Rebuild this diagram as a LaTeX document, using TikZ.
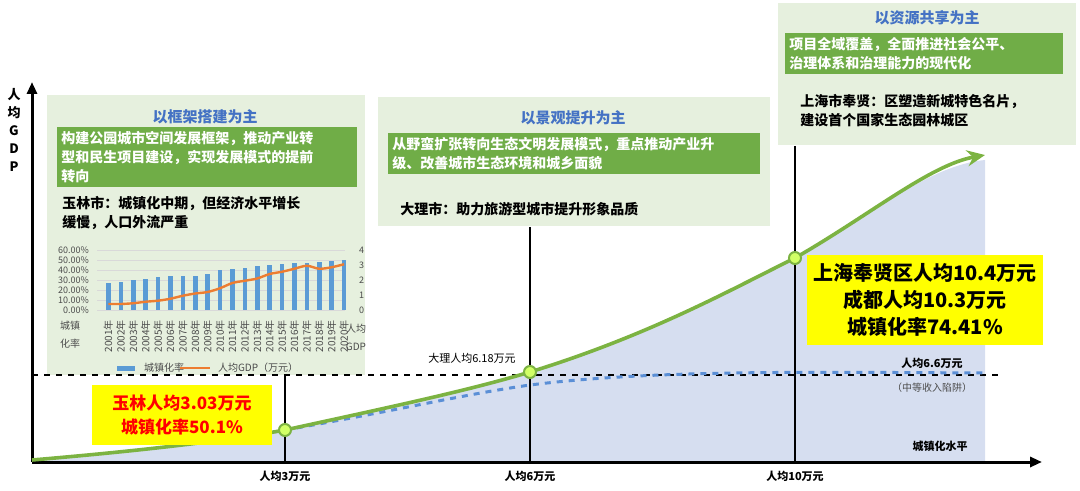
\documentclass[tikz,border=0pt]{standalone}
\usepackage{fontspec}
\setmainfont{Noto Sans CJK SC}
\usetikzlibrary{arrows.meta}
\definecolor{pbg}{HTML}{E6F0DE}
\definecolor{gbox}{HTML}{70AD47}
\definecolor{ttl}{HTML}{4472C4}
\definecolor{fillb}{HTML}{D6DEF0}
\definecolor{crv}{HTML}{7CB342}
\definecolor{dashblue}{HTML}{5B8FD6}
\definecolor{barc}{HTML}{5B9BD5}
\definecolor{org}{HTML}{ED7D31}
\definecolor{yel}{HTML}{FFFF00}
\tikzset{
 panel/.style={fill=pbg,draw=none},
 gtext/.style={fill=gbox,text=white,font=\fontsize{7}{9.5}\selectfont\bfseries,align=left,anchor=north west,inner sep=2pt},
 ttltext/.style={text=ttl,font=\fontsize{7.5}{9}\selectfont\bfseries},
 btext/.style={font=\fontsize{7}{9.5}\selectfont\bfseries,align=left,anchor=north west,inner sep=0pt},
 small/.style={font=\fontsize{4.5}{5}\selectfont,text=black!70},
 tick/.style={font=\fontsize{5.5}{6}\selectfont\bfseries},
 vline/.style={line width=1.2pt},
 dot/.style={circle,fill=yel!70!green!60,draw=crv,line width=1pt,minimum size=6pt,inner sep=0pt},
}
\begin{document}
\begin{tikzpicture}[x=0.5pt,y=-0.5pt]
\useasboundingbox (0,0) rectangle (1080,491);
% panels
\fill[panel] (47,95) rectangle (365,375);
\fill[panel] (378,97) rectangle (770,226);
\fill[panel] (778,3) rectangle (1076,145);
% fill under curve
\fill[fillb] (32,460) .. controls (150,450) and (230,440) .. (285,430)
  .. controls (400,405) and (470,390) .. (530,372)
  .. controls (650,335) and (730,290) .. (795,258)
  .. controls (870,215) and (930,165) .. (985,160) -- (985,462) -- (32,462) -- cycle;
% dashed horizontal
\draw[dashed,line width=0.8pt] (32,375) -- (1000,375);
% axes
\coordinate (o) at (32,462);
\coordinate (yt) at (32,82);
\coordinate (xr) at (1042,462);
\draw[line width=1.5pt,-{Triangle[length=6pt,width=5pt]}] (o) -- (yt);
\draw[line width=1.5pt,-{Triangle[length=6pt,width=5pt]}] (o) -- (xr);
\node[font=\fontsize{6.5}{9}\selectfont\bfseries,align=center] (ylab) at (14,130) {人\\均\\G\\D\\P};
\node[tick] (xlab) at (940,446) {城镇化水平};
% vertical lines
\draw[vline] (285,375) -- (285,462);
\draw[vline] (530,227) -- (530,462);
\draw[vline] (795,146) -- (795,462);
\node[tick] (t3) at (285,476) {人均3万元};
\node[tick] (t6) at (530,476) {人均6万元};
\node[tick] (t10) at (795,476) {人均10万元};
% blue dashed curve
\draw[dashblue,dashed,line width=1.5pt] (285,430) .. controls (400,410) and (460,395) .. (530,385)
  .. controls (650,370) and (800,372) .. (985,373);
% green curve
\draw[crv,line width=1.8pt,-{Stealth[length=9pt,width=8pt]}] (32,460) .. controls (150,450) and (230,440) .. (285,430)
  .. controls (400,405) and (470,390) .. (530,372)
  .. controls (650,335) and (730,290) .. (795,258)
  .. controls (870,215) and (930,165) .. (985,155);
\node[dot] (d1) at (285,430) {};
\node[dot] (d2) at (530,372) {};
\node[dot] (d3) at (795,258) {};
% titles
\node[ttltext] (h1) at (205,117) {以框架搭建为主};
\node[ttltext] (h2) at (573,118) {以景观提升为主};
\node[ttltext] (h3) at (927,18) {以资源共享为主};
% green boxes
\node[gtext,text width=146pt] (g1) at (57,127) {构建公园城市空间发展框架，推动产业转\\型和民生项目建设，实现发展模式的提前\\转向};
\node[gtext,text width=182pt] (g2) at (388,133) {从野蛮扩张转向生态文明发展模式，重点推动产业升\\级、改善城市生态环境和城乡面貌};
\node[gtext,text width=135pt] (g3) at (785,33) {项目全域覆盖，全面推进社会公平、\\治理体系和治理能力的现代化};
% black texts
\node[btext] (b1) at (62,196) {玉林市：城镇化中期，但经济水平增长\\缓慢，人口外流严重};
\node[btext] (b2) at (400,202) {大理市：助力旅游型城市提升形象品质};
\node[btext] (b3) at (800,94) {上海市奉贤：区塑造新城特色名片，\\建设首个国家生态园林城区};
% chart
\foreach \y/\l in {250/60.00\%,260/50.00\%,270/40.00\%,280/30.00\%,290/20.00\%,300/10.00\%,310/0.00\%}{
  \draw[black!15,line width=0.3pt] (97,\y) -- (345,\y);
  \node[small,anchor=east] at (96,\y) {\l};}
\foreach \y/\l in {250/4,265/3,280/2,295/1,310/0}{\node[small,anchor=west] at (352,\y) {\l};}
\foreach \v [count=\i] in {27,28,30,31,32.5,33.5,34,34,35.5,39.5,41,42,43.5,44.5,45.5,46.5,47,48,49,50}{
  \fill[barc] ({96+\i*12.4-2.3},310) rectangle ({96+\i*12.4+2.3},{310-\v});
  \pgfmathtruncatemacro\yr{2000+\i}
  \node[small,rotate=90,anchor=east,font=\fontsize{5}{5}\selectfont] at ({96+\i*12.4},313) {\yr 年};}
\draw[org,line width=1.2pt] plot[smooth] coordinates {(108.4,304)(120.8,304)(133.2,303.25)(145.6,301.75)(158,300.7)(170.4,298.75)(182.8,295.75)(195.2,293.5)(207.6,292)(220,288.25)(232.4,283)(244.8,280.75)(257.2,278.5)(269.6,274)(282,271.75)(294.4,268.75)(306.8,265.75)(319.2,268.75)(331.6,267.25)(344,264.25)};
\node[small,align=center,font=\fontsize{5}{9}\selectfont] (cl) at (70,335) {城镇\\化率};
\node[small,align=center,font=\fontsize{5}{9}\selectfont] (cr) at (356,337) {人均\\GDP};
\fill[barc] (117,366) rectangle (135,371);
\node[small,anchor=west,font=\fontsize{5}{6}\selectfont] (lg1) at (137,368) {城镇化率};
\draw[org,line width=1.2pt] (180,368) -- (210,368);
\node[small,anchor=west,font=\fontsize{5}{6}\selectfont] (lg2) at (211,368) {人均GDP（万元）};
% labels
\node[font=\fontsize{5.5}{6}\selectfont] (dl) at (472,358) {大理人均6.18万元};
\node[tick] (l66) at (932,363) {人均6.6万元};
\node[font=\fontsize{5}{6}\selectfont,text=black!70] (trap) at (932,388) {（中等收入陷阱）};
% yellow boxes
\node[fill=yel,text=red,font=\fontsize{8.5}{12}\selectfont\bfseries,align=center,minimum width=90pt,minimum height=30pt] (ya) at (182,415) {玉林人均3.03万元\\城镇化率50.1\%};
\node[fill=yel,font=\fontsize{10}{13.5}\selectfont\bfseries,align=center,minimum width=110pt,minimum height=45pt] (yb) at (925,300) {上海奉贤区人均10.4万元\\成都人均10.3万元\\城镇化率74.41\%};
\end{tikzpicture}
\end{document}
